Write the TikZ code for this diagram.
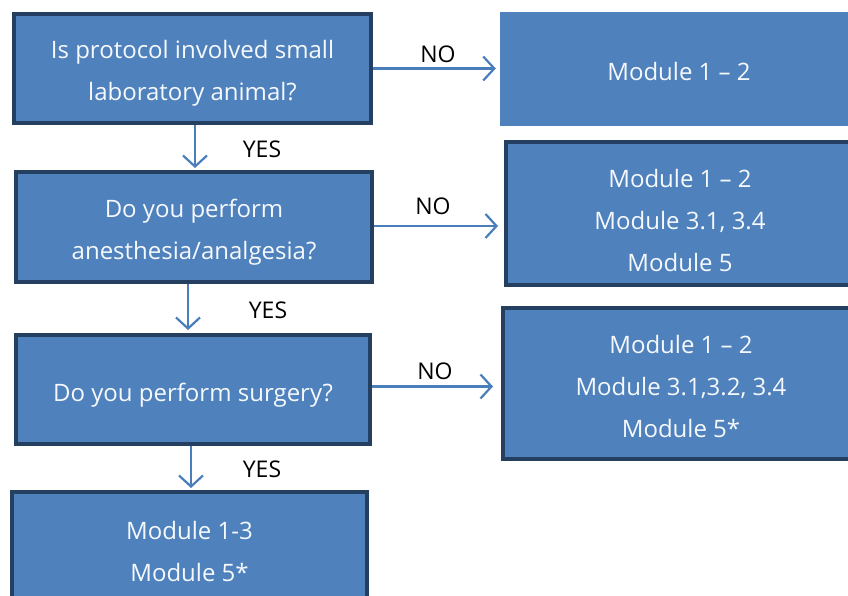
\documentclass[tikz,border=0pt]{standalone}
\usepackage{fontspec}
\setmainfont{Open Sans}
\usetikzlibrary{arrows.meta,calc}
\definecolor{boxfill}{HTML}{4F81BD}
\definecolor{boxline}{HTML}{243F60}
\definecolor{arrcol}{HTML}{4A7EBB}
\begin{document}
\begin{tikzpicture}[x=1pt,y=-1pt,
  qbox/.style={rectangle,fill=boxfill,draw=boxline,line width=4pt,inner sep=0pt},
  plainbox/.style={rectangle,fill=boxfill,draw=boxfill,line width=0.5pt,inner sep=0pt},
  txt/.style={text=white!95!boxfill,align=center,inner sep=0pt,font=\fontsize{24}{42}\selectfont},
  lbl/.style={text=black,font=\fontsize{23}{26}\selectfont,inner sep=0pt},
  arr/.style={draw=arrcol,line width=2.2pt,-{Straight Barb[length=11pt,width=24pt,line width=2.2pt]}}]
\useasboundingbox (0,0) rectangle (848,596);
\begin{scope}
\clip (0,0) rectangle (848,596);
\node[qbox,minimum width=357pt,minimum height=109pt] (q1) at (192.5,68.5) {};
\node[plainbox,minimum width=360pt,minimum height=113pt] (m1) at (680,69) {};
\node[qbox,minimum width=356pt,minimum height=110pt] (q2) at (194,227) {};
\node[qbox,minimum width=350pt,minimum height=143pt] (m2) at (681,213.5) {};
\node[qbox,minimum width=354pt,minimum height=109pt] (q3) at (193,389.5) {};
\node[qbox,minimum width=356pt,minimum height=151pt] (m3) at (681,383.5) {};
\node[qbox,minimum width=355pt,minimum height=122pt] (q4) at (189.5,553) {};
\end{scope}
% texts
\node[txt] (q1t) at ([yshift=-5pt]q1.center) {Is protocol involved small\\laboratory animal?};
\node[txt] (m1t) at ([xshift=-1pt,yshift=-3pt]m1.center) {Module 1 -- 2};
\node[txt] (q2t) at ([yshift=-5pt]q2.center) {Do you perform\\anesthesia/analgesia?};
\node[txt] (m2t) at ([xshift=-1pt,yshift=-7pt]m2.center) {Module 1 -- 2\\Module 3.1, 3.4\\Module 5};
\node[txt] (q3t) at ([yshift=-6pt]q3.center) {Do you perform surgery?};
\node[txt] (m3t) at ([yshift=-3pt]m3.center) {Module 1 -- 2\\Module 3.1,3.2, 3.4\\Module 5*};
\node[txt] (q4t) at ([yshift=2pt]q4.center) {Module 1-3\\Module 5*};
% labels
\node[lbl] (no1) at (438,54) {NO};
\node[lbl] (no2) at (433,206) {NO};
\node[lbl] (no3) at (435,371) {NO};
\node[lbl] (yes1) at (262,149) {YES};
\node[lbl] (yes2) at (268,310) {YES};
\node[lbl] (yes3) at (262,469) {YES};
% connectors
\draw[arr,shorten >=4pt] (q1.east) -- (q1.east -| m1.west);
\draw[arr,shorten >=6pt] ([yshift=1pt]q2.east) -- ([yshift=1pt]q2.east -| m2.west);
\draw[arr,shorten >=8pt] ([yshift=3pt]q3.east) -- ([yshift=3pt]q3.east -| m3.west);
\draw[arr,shorten >=2pt] ([xshift=2.5pt]q1.south) -- ([xshift=2.5pt]q1.south |- q2.north);
\draw[arr,shorten >=3pt] ([xshift=-6pt]q2.south) -- ([xshift=-6pt]q2.south |- q3.north);
\draw[arr,shorten >=2pt] ([xshift=-2pt]q3.south) -- ([xshift=-2pt]q3.south |- q4.north);
\end{tikzpicture}
\end{document}
